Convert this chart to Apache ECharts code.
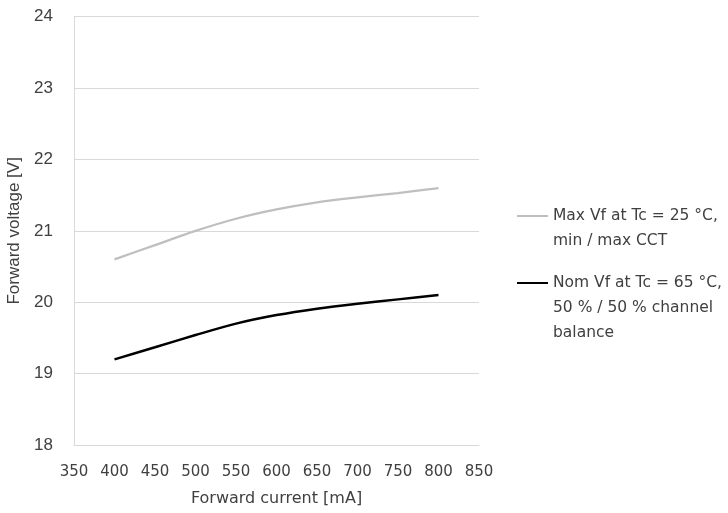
<!DOCTYPE html>
<html>
<head>
<meta charset="utf-8">
<script src="https://cdn.jsdelivr.net/npm/echarts@6/dist/echarts.min.js"></script>
<style>
html,body{margin:0;padding:0;background:#fff;}
#c{width:728px;height:513px;}
</style>
</head>
<body>
<div id="c"></div>
<script>
const currents = [400, 450, 500, 550, 600, 650, 700, 750, 800];
const maxVf = [20.6, 20.8, 21.0, 21.17, 21.3, 21.4, 21.47, 21.53, 21.6];
const nomVf = [19.2, 19.37, 19.54, 19.7, 19.82, 19.91, 19.98, 20.04, 20.1];
const seriesNames = ['Max Vf at Tc = 25 °C,\nmin / max CCT', 'Nom Vf at Tc = 65 °C,\n50 % / 50 % channel\nbalance'];
const xTitle = 'Forward current [mA]';
const yTitle = 'Forward voltage [V]';

const FONT = '"DejaVu Sans"';
const YFONT = '"Liberation Sans Narrow", "Liberation Sans", Arial, sans-serif';
const FS = 16;
const TXT = '#404040';
const LH = 25;

const chart = echarts.init(document.getElementById('c'), null, {renderer: 'canvas'});
function pairs(xs, ys){ return xs.map((x, i) => [x, ys[i]]); }
function legendFor(name, top){
  const n = name.split('\n').length;
  return {
    orient: 'vertical', left: 517, top: top,
    itemWidth: 31, itemHeight: 2, itemGap: 0,
    icon: 'rect', padding: 0,
    data: [{name: name}],
    formatter: function (nm) { return ' \n'.repeat(n - 1) + nm; },
    textStyle: {fontFamily: FONT, fontSize: 15.5, color: TXT, lineHeight: LH}
  };
}
chart.setOption({
  animation: false,
  grid: {left: 74, right: 249, top: 16.7, bottom: 68, containLabel: false, outerBoundsMode: 'none'},
  legend: [legendFor(seriesNames[0], 216 - 37.5), legendFor(seriesNames[1], 283 - 62.5)],
  xAxis: {
    type: 'value', min: 350, max: 850, interval: 50,
    name: xTitle, nameLocation: 'middle', nameGap: 46,
    nameTextStyle: {fontFamily: FONT, fontSize: FS, color: TXT},
    axisLine: {show: true, lineStyle: {color: '#d9d9d9', width: 1}},
    axisTick: {show: false},
    splitLine: {show: false},
    axisLabel: {fontFamily: FONT, fontSize: 15, color: TXT, margin: 20}
  },
  yAxis: {
    type: 'value', min: 18, max: 24, interval: 1,
    name: yTitle, nameLocation: 'middle', nameGap: 43, nameRotate: 90,
    nameTextStyle: {fontFamily: YFONT, fontSize: 17, color: TXT},
    axisLine: {show: true, lineStyle: {color: '#d9d9d9', width: 1}},
    axisTick: {show: false},
    splitLine: {show: true, lineStyle: {color: '#d9d9d9', width: 1}},
    axisLabel: {fontFamily: YFONT, fontSize: 17, color: TXT, margin: 21}
  },
  series: [
    {name: seriesNames[0], type: 'line', data: pairs(currents, maxVf), smooth: 0.3, showSymbol: false, symbol: 'none',
     lineStyle: {color: '#bfbfbf', width: 2.25}, itemStyle: {color: '#bfbfbf'}},
    {name: seriesNames[1], type: 'line', data: pairs(currents, nomVf), smooth: 0.3, showSymbol: false, symbol: 'none',
     lineStyle: {color: '#000000', width: 2.5}, itemStyle: {color: '#000000'}}
  ]
});
</script>
</body>
</html>
